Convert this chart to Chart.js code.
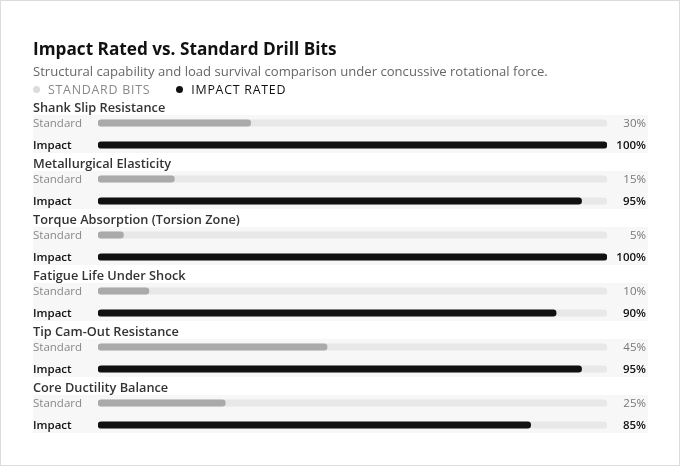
<!DOCTYPE html>
<html>
<head>
<meta charset="utf-8">
<script src="https://cdn.jsdelivr.net/npm/chart.js@4"></script>
<style>
  html, body { margin: 0; padding: 0; background: #fff; }
  #wrap { position: relative; width: 680px; height: 466px; box-sizing: border-box; border: 1px solid #dcdcdc; overflow: hidden; font-family: "Open Sans", "Noto Sans", sans-serif; }
  #chart { position: absolute; left: -1px; top: -1px; }
  .title { position: absolute; left: 32px; top: 36px; font-size: 17.2px; font-weight: 700; color: #111; white-space: nowrap; }
  .sub { position: absolute; left: 32px; top: 61px; font-size: 13.1px; color: #666; white-space: nowrap; }
  .legend { position: absolute; left: 32px; top: 80px; font-size: 12.4px; letter-spacing: 0.75px; white-space: nowrap; }
  .legend span { display: inline-block; }
  .dot { width: 7px; height: 7px; border-radius: 50%; margin-right: 8px; vertical-align: 1px; }
</style>
</head>
<body>
<div id="wrap">
  <canvas id="chart" width="680" height="466"></canvas>
  <div class="title">Impact Rated vs. Standard Drill Bits</div>
  <div class="sub">Structural capability and load survival comparison under concussive rotational force.</div>
  <div class="legend">
    <span class="dot" style="background:#dcdcdc"></span><span style="color:#888;margin-right:22px">STANDARD BITS</span>
    <span class="dot" style="background:#111"></span><span style="color:#111">IMPACT RATED</span>
  </div>
</div>
<script>
const categories = ["Shank Slip Resistance", "Metallurgical Elasticity", "Torque Absorption (Torsion Zone)", "Fatigue Life Under Shock", "Tip Cam-Out Resistance", "Core Ductility Balance"];
const standardValues = [30, 15, 5, 10, 45, 25];
const impactValues = [100, 95, 100, 90, 95, 85];
const rowLabels = ["Standard", "Impact"];
const seriesNames = ["Standard Bits", "Impact Rated"];

// layout (units on the y scale)
const GROUP = 56, STD_OFF = 16, IMP_OFF = 38;
const stdPos = i => i * GROUP + STD_OFF;
const impPos = i => i * GROUP + IMP_OFF;

const trackData = [];
categories.forEach((c, i) => { trackData.push({ x: 100, y: stdPos(i) }); trackData.push({ x: 100, y: impPos(i) }); });

const FONT = '"Open Sans", "Noto Sans", sans-serif';

const decor = {
  id: 'decor',
  beforeDatasetsDraw(chart) {
    const { ctx, scales: { y } } = chart;
    ctx.save();
    categories.forEach((c, i) => {
      const top = y.getPixelForValue(i * GROUP + 8);
      const bot = y.getPixelForValue(i * GROUP + 46);
      ctx.fillStyle = '#f7f7f7';
      ctx.fillRect(33, top, 615, bot - top);
    });
    ctx.restore();
  },
  afterDatasetsDraw(chart) {
    const { ctx, scales: { y } } = chart;
    ctx.save();
    ctx.textBaseline = 'middle';
    const d = 1;
    categories.forEach((c, i) => {
      ctx.textAlign = 'left';
      ctx.fillStyle = '#333';
      ctx.font = '600 12.75px ' + FONT;
      ctx.fillText(c, 33, y.getPixelForValue(i * GROUP) + d);
      ctx.font = '11.5px ' + FONT;
      ctx.fillStyle = '#888';
      ctx.fillText(rowLabels[0], 33, y.getPixelForValue(stdPos(i)) + d);
      ctx.font = '600 11.5px ' + FONT;
      ctx.fillStyle = '#111';
      ctx.fillText(rowLabels[1], 33, y.getPixelForValue(impPos(i)) + d);
      ctx.textAlign = 'right';
      ctx.font = '11.5px ' + FONT;
      ctx.fillStyle = '#777';
      ctx.fillText(standardValues[i] + '%', 646, y.getPixelForValue(stdPos(i)) + d);
      ctx.font = '600 11.5px ' + FONT;
      ctx.fillStyle = '#111';
      ctx.fillText(impactValues[i] + '%', 646, y.getPixelForValue(impPos(i)) + d);
    });
    ctx.restore();
  }
};

new Chart(document.getElementById('chart'), {
  type: 'bar',
  data: {
    datasets: [
      { label: seriesNames[0], data: standardValues.map((v, i) => ({ x: v, y: stdPos(i) })), backgroundColor: '#aaaaaa', order: 1 },
      { label: seriesNames[1], data: impactValues.map((v, i) => ({ x: v, y: impPos(i) })), backgroundColor: '#111111', order: 1 },
      { label: 'track', data: trackData, backgroundColor: '#e8e8e8', order: 2 }
    ]
  },
  options: {
    indexAxis: 'y',
    responsive: false,
    animation: false,
    events: [],
    grouped: false,
    barThickness: 6.5,
    borderRadius: 3.25,
    borderSkipped: false,
    layout: { padding: { left: 98, right: 73, top: 107, bottom: 23 } },
    scales: {
      x: { type: 'linear', min: 0, max: 100, display: false, offset: false },
      y: { type: 'linear', min: 0, max: 336, reverse: true, display: false, offset: false }
    },
    plugins: { legend: { display: false }, title: { display: false }, tooltip: { enabled: false } }
  },
  plugins: [decor]
});
</script>
</body>
</html>
